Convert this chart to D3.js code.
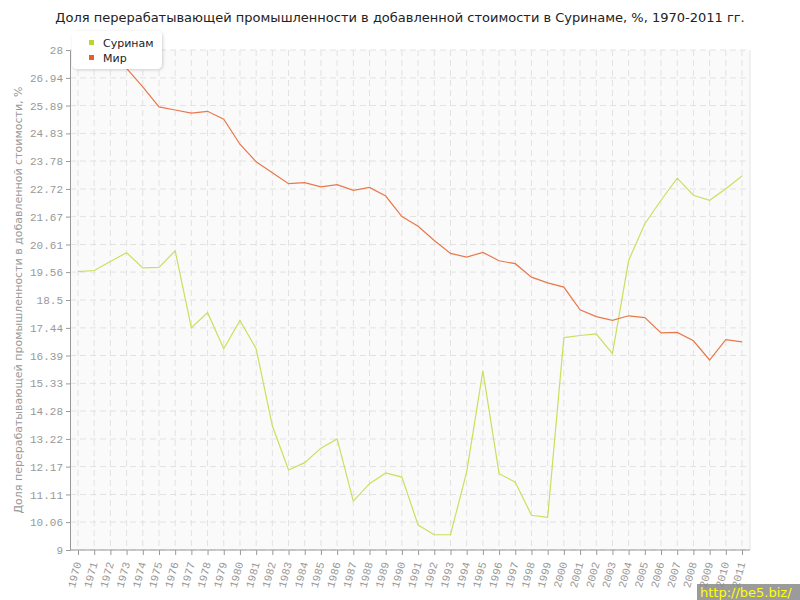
<!DOCTYPE html>
<html><head><meta charset="utf-8">
<script src="https://cdn.jsdelivr.net/npm/d3@7"></script>
<style>body{margin:0;background:#fff}svg{display:block}</style>
</head><body><svg id="c" width="800" height="600"></svg>
<script>
const years = [1970,1971,1972,1973,1974,1975,1976,1977,1978,1979,1980,1981,1982,1983,1984,1985,1986,1987,1988,1989,1990,1991,1992,1993,1994,1995,1996,1997,1998,1999,2000,2001,2002,2003,2004,2005,2006,2007,2008,2009,2010,2011];
const suriname = [19.58,19.62,19.96,20.30,19.72,19.74,20.37,17.44,18.02,16.65,17.72,16.65,13.72,12.04,12.32,12.87,13.22,10.86,11.52,11.93,11.77,9.95,9.58,9.58,11.97,15.81,11.90,11.58,10.32,10.24,17.07,17.15,17.21,16.46,20.00,21.40,22.29,23.13,22.48,22.29,22.73,23.21];
const world = [27.72,27.85,27.95,27.30,26.60,25.84,25.72,25.60,25.67,25.37,24.42,23.75,23.34,22.92,22.96,22.80,22.88,22.67,22.78,22.45,21.67,21.30,20.76,20.27,20.13,20.31,19.99,19.88,19.37,19.15,18.99,18.13,17.87,17.73,17.90,17.83,17.25,17.27,16.95,16.22,16.99,16.91];
const yTicks = [9,10.06,11.11,12.17,13.22,14.28,15.33,16.39,17.44,18.5,19.56,20.61,21.67,22.72,23.78,24.83,25.89,26.94,28];
const seriesNames = ["Суринам","Мир"];
const lineColors = ["#c9e05c","#e8784a"];
const legendColors = ["#b8d62e","#e0622a"];
const title = "Доля перерабатывающей промышленности в добавленной стоимости в Суринаме, %, 1970-2011 гг.";
const yTitle = "Доля перерабатывающей промышленности в добавленной стоимости, %";

const svg = d3.select("#c");
const L=70,R=750,T=50,B=550;
const x = d3.scalePoint().domain(years).range([78,742]);
const y = d3.scaleLinear().domain([9,28]).range([B,T]);

svg.append("rect").attr("x",L).attr("y",T).attr("width",R-L).attr("height",B-T).attr("fill","#fafafa");
// grid
svg.append("g").selectAll("line").data(yTicks).join("line")
  .attr("x1",L).attr("x2",R).attr("y1",d=>y(d)).attr("y2",d=>y(d))
  .attr("stroke","#e2e2e2").attr("stroke-dasharray","6,4");
svg.append("g").selectAll("line").data(years).join("line")
  .attr("y1",T).attr("y2",B).attr("x1",d=>x(d)).attr("x2",d=>x(d))
  .attr("stroke","#e2e2e2").attr("stroke-dasharray","6,4");
svg.append("line").attr("x1",R).attr("x2",R).attr("y1",T).attr("y2",B).attr("stroke","#e4e4e4");

// axes
const ya = svg.append("g").attr("transform",`translate(${L},0)`)
  .call(d3.axisLeft(y).tickValues(yTicks).tickSize(4).tickSizeOuter(0).tickFormat(d=>String(d)));
ya.select(".domain").attr("stroke","#999");
ya.selectAll(".tick line").attr("stroke","#999");
ya.selectAll("text").attr("font-family","'Liberation Mono',monospace").attr("font-size",11).attr("fill","#999").attr("x",-7);

const xa = svg.append("g").attr("transform",`translate(0,${B})`)
  .call(d3.axisBottom(x).tickSize(5).tickSizeOuter(0));
xa.select(".domain").attr("stroke","#999").attr("d",`M${L},0H${R}`);
xa.selectAll(".tick line").attr("stroke","#999");
xa.selectAll("text").attr("font-family","'Liberation Mono',monospace").attr("font-size",11).attr("fill","#999")
  .attr("text-anchor","end").attr("dy",null).attr("y",0)
  .attr("transform","translate(3,13) rotate(-75)");

// lines
const line = d3.line().x((d,i)=>x(years[i])).y(d=>y(d));
[suriname, world].forEach((s,k)=>{
  svg.append("path").datum(s).attr("d",line).attr("fill","none")
    .attr("stroke",lineColors[k]).attr("stroke-width",1.2);
});

// title
svg.append("text").attr("x",400).attr("y",22).attr("text-anchor","middle")
  .attr("font-family","'DejaVu Sans',sans-serif").attr("font-size",13).attr("fill","#222").text(title);
svg.append("text").attr("transform","translate(22,300) rotate(-90)").attr("text-anchor","middle")
  .attr("font-family","'DejaVu Sans',sans-serif").attr("font-size",11).attr("fill","#999").text(yTitle);

// legend
const lg = svg.append("g");
const defs = svg.append("defs");
const f = defs.append("filter").attr("id","sh").attr("x","-20%").attr("y","-20%").attr("width","140%").attr("height","160%");
f.append("feDropShadow").attr("dx",1).attr("dy",1).attr("stdDeviation",1.5).attr("flood-color","#000").attr("flood-opacity",0.18);
lg.append("rect").attr("x",72).attr("y",31).attr("width",90).attr("height",38).attr("rx",5)
  .attr("fill","#fff").attr("filter","url(#sh)");
seriesNames.forEach((n,i)=>{
  lg.append("rect").attr("x",89).attr("y",40+i*15).attr("width",5).attr("height",5).attr("fill",legendColors[i]);
  lg.append("text").attr("x",103).attr("y",47+i*15).attr("font-family","'DejaVu Sans',sans-serif")
    .attr("font-size",11).attr("fill","#222").text(n);
});

// watermark
svg.append("rect").attr("x",697).attr("y",584).attr("width",103).attr("height",16).attr("fill","#8a8a8a").attr("opacity",0.85);
svg.append("text").attr("x",700).attr("y",597).attr("font-family","'DejaVu Sans',sans-serif").attr("font-size",13)
  .attr("fill","#ffff00").text("http://be5.biz/");
</script></body></html>
